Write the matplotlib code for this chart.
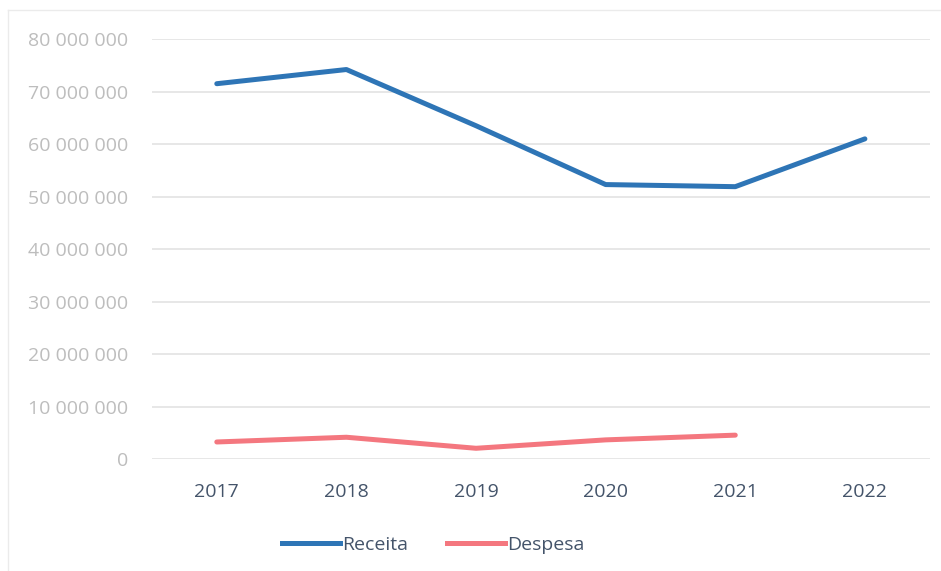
import matplotlib.pyplot as plt
from matplotlib.lines import Line2D
from matplotlib.ticker import FuncFormatter

# values in reais
years = ["2017", "2018", "2019", "2020", "2021", "2022"]
receita = [71_500_000, 74_200_000, 63_500_000, 52_300_000, 51_900_000, 61_000_000]
despesa = [3_300_000, 4_200_000, 2_100_000, 3_700_000, 4_600_000]

blue = "#2E75B6"
red = "#F4777F"

plt.rcParams["font.family"] = ["Open Sans", "DejaVu Sans"]

fig = plt.figure(figsize=(9.41, 5.71), dpi=100)
ax = fig.add_axes([0.1615, 0.1956, 0.8265, 0.736])

x = list(range(len(years)))
ax.plot(x, receita, color=blue, lw=3.6, solid_capstyle="round", solid_joinstyle="round", zorder=3)
ax.plot(x[:len(despesa)], despesa, color=red, lw=3.6, solid_capstyle="round", solid_joinstyle="round", zorder=3)

ax.set_xlim(-0.5, len(years) - 0.5)
ax.set_ylim(0, 80_000_000)
ax.set_yticks(range(0, 80_000_001, 10_000_000))
ax.yaxis.set_major_formatter(FuncFormatter(lambda v, _: f"{int(v):,}".replace(",", " ")))
ax.set_xticks(x)
ax.set_xticklabels(years)

ax.grid(axis="y", color="#E3E3E3", lw=1.2)
ax.set_axisbelow(True)
for s in ax.spines.values():
    s.set_visible(False)
ax.tick_params(axis="both", length=0)
ax.tick_params(axis="y", labelsize=14, labelcolor="#BDBDBD", pad=17)
ax.tick_params(axis="x", labelsize=14, labelcolor="#44546A", pad=17)

# faint outer frame on the left and top
fig.add_artist(Line2D([8 / 941, 8 / 941], [0, 1 - 10 / 571], color="#EBEBEB", lw=1))
fig.add_artist(Line2D([8 / 941, 1], [1 - 10 / 571, 1 - 10 / 571], color="#EBEBEB", lw=1))

handles = [Line2D([], [], color=blue, lw=3.6), Line2D([], [], color=red, lw=3.6)]
fig.legend(handles, ["Receita", "Despesa"], loc="center", bbox_to_anchor=(433 / 941, 1 - 545 / 571),
           ncol=2, frameon=False, fontsize=14, labelcolor="#44546A", handlelength=3.0,
           handletextpad=0.1, columnspacing=2.0)

fig.savefig("out.png", dpi=100, facecolor="white")
